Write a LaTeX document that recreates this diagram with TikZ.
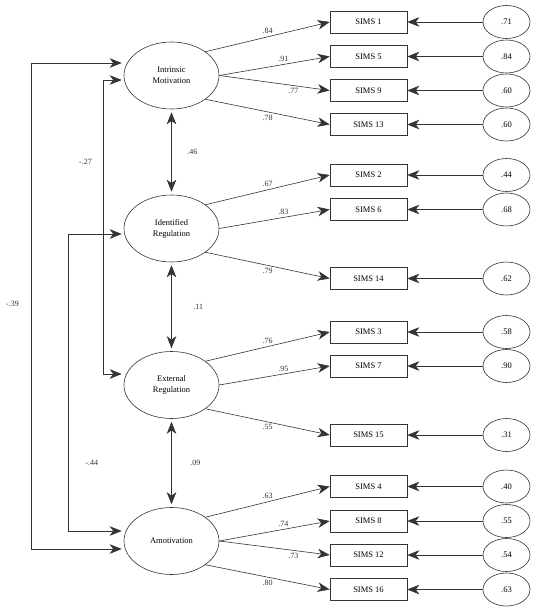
\documentclass[tikz,border=0pt]{standalone}
\usepackage{fontspec}
\setmainfont{Liberation Serif}
\usetikzlibrary{shapes.geometric, arrows.meta, positioning}
\definecolor{linegray}{HTML}{333333}
\tikzset{
  latent/.style={
    ellipse, draw=linegray, line width=0.6pt,
    minimum width=95pt, minimum height=67pt, inner sep=0pt,
    align=center, font=\fontsize{8.5}{11}\selectfont
  },
  item/.style={
    rectangle, draw=linegray, line width=0.6pt,
    minimum width=77pt, minimum height=22pt, inner sep=0pt,
    font=\fontsize{8.5}{10}\selectfont
  },
  errvar/.style={
    ellipse, draw=linegray, line width=0.6pt,
    minimum width=47pt, minimum height=33pt, inner sep=0pt,
    font=\fontsize{8.5}{10}\selectfont
  },
  arrow/.style={-{Stealth[length=12pt, width=9.5pt, inset=3.5pt]}, line width=0.6pt, linegray},
  covar/.style={{Stealth[length=12pt, width=9.5pt, inset=3.5pt]}-{Stealth[length=12pt, width=9.5pt, inset=3.5pt]},
    line width=0.6pt, linegray},
  lab/.style={font=\fontsize{8}{9}\selectfont, inner sep=2.5pt}
}

\begin{document}
\begin{tikzpicture}[x=1pt, y=-1pt]
  \useasboundingbox (0,0) rectangle (537,612);
  % Latent factors
  \node[latent] (IM) at (171.5,75.5) {Intrinsic\\Motivation};
  \node[latent] (IR) at (171.5,228.5) {Identified\\Regulation};
  \node[latent] (ER) at (171.5,385) {External\\Regulation};
  \node[latent] (AM) at (171.5,541) {Amotivation};
  % Items and error variances
  \foreach \n/\y/\v in {1/22/.71, 5/56.5/.84, 9/90.5/.60, 13/124.5/.60,
                        2/175/.44, 6/209.5/.68, 14/278.5/.62,
                        3/332/.58, 7/366/.90, 15/435/.31,
                        4/486.5/.40, 8/521/.55, 12/555/.54, 16/589.5/.63}{%
    \node[item] (s\n) at (368.5,\y) {SIMS \n};
    \node[errvar] (e\n) at (506.5,\y) {\v};
    \draw[arrow] (e\n) -- (s\n);}
  % Loadings: Intrinsic Motivation
  \draw[arrow] (IM.35) -- node[lab, above] {.84} (s1.west);
  \draw[arrow] (IM.east) -- node[lab, above, pos=0.58] {.91} (s5.west);
  \draw[arrow] (IM.east) -- node[lab, below, pos=0.67] {.77} (s9.west);
  \draw[arrow] (IM.-35) -- node[lab, below] {.78} (s13.west);
  % Loadings: Identified Regulation
  \draw[arrow] (IR.35) -- node[lab, above] {.67} (s2.west);
  \draw[arrow] (IR.east) -- node[lab, above, pos=0.58] {.83} (s6.west);
  \draw[arrow] (IR.-35) -- node[lab, below] {.79} (s14.west);
  % Loadings: External Regulation
  \draw[arrow] (ER.35) -- node[lab, above] {.76} (s3.west);
  \draw[arrow] (ER.east) -- node[lab, above, pos=0.58] {.95} (s7.west);
  \draw[arrow] (ER.-35) -- node[lab, below] {.55} (s15.west);
  % Loadings: Amotivation
  \draw[arrow] (AM.35) -- node[lab, above] {.63} (s4.west);
  \draw[arrow] (AM.east) -- node[lab, above, pos=0.58] {.74} (s8.west);
  \draw[arrow] (AM.east) -- node[lab, below, pos=0.67] {.73} (s12.west);
  \draw[arrow] (AM.-35) -- node[lab, below] {.80} (s16.west);
  % Correlations between adjacent factors
  \draw[covar, shorten <=3pt, shorten >=3pt] (IM) -- node[lab, right=13pt] {.46} (IR);
  \draw[covar, shorten <=3pt, shorten >=3pt] (IR) -- node[lab, right=19pt] {.11} (ER);
  \draw[covar, shorten <=3pt, shorten >=3pt] (ER) -- node[lab, right=16pt] {.09} (AM);
  % Correlations on the left
  \draw[covar, shorten <=2pt, shorten >=2pt] ([yshift=12.5pt]IM.west) -- ++(-92,0)
    |- node[lab, pos=0.248, left=10pt] {-.39} ([yshift=-8pt]AM.west);
  \draw[covar, shorten <=2pt, shorten >=2pt] ([yshift=-4.5pt]IM.west) -- ++(-20,0)
    |- node[lab, pos=0.14, left=9pt] {-.27} ([yshift=11pt]ER.west);
  \draw[covar, shorten <=2pt, shorten >=2pt] ([yshift=-5.5pt]IR.west) -- ++(-55,0)
    |- node[lab, pos=0.385, right=14pt] {-.44} ([yshift=10pt]AM.west);
\end{tikzpicture}
\end{document}
